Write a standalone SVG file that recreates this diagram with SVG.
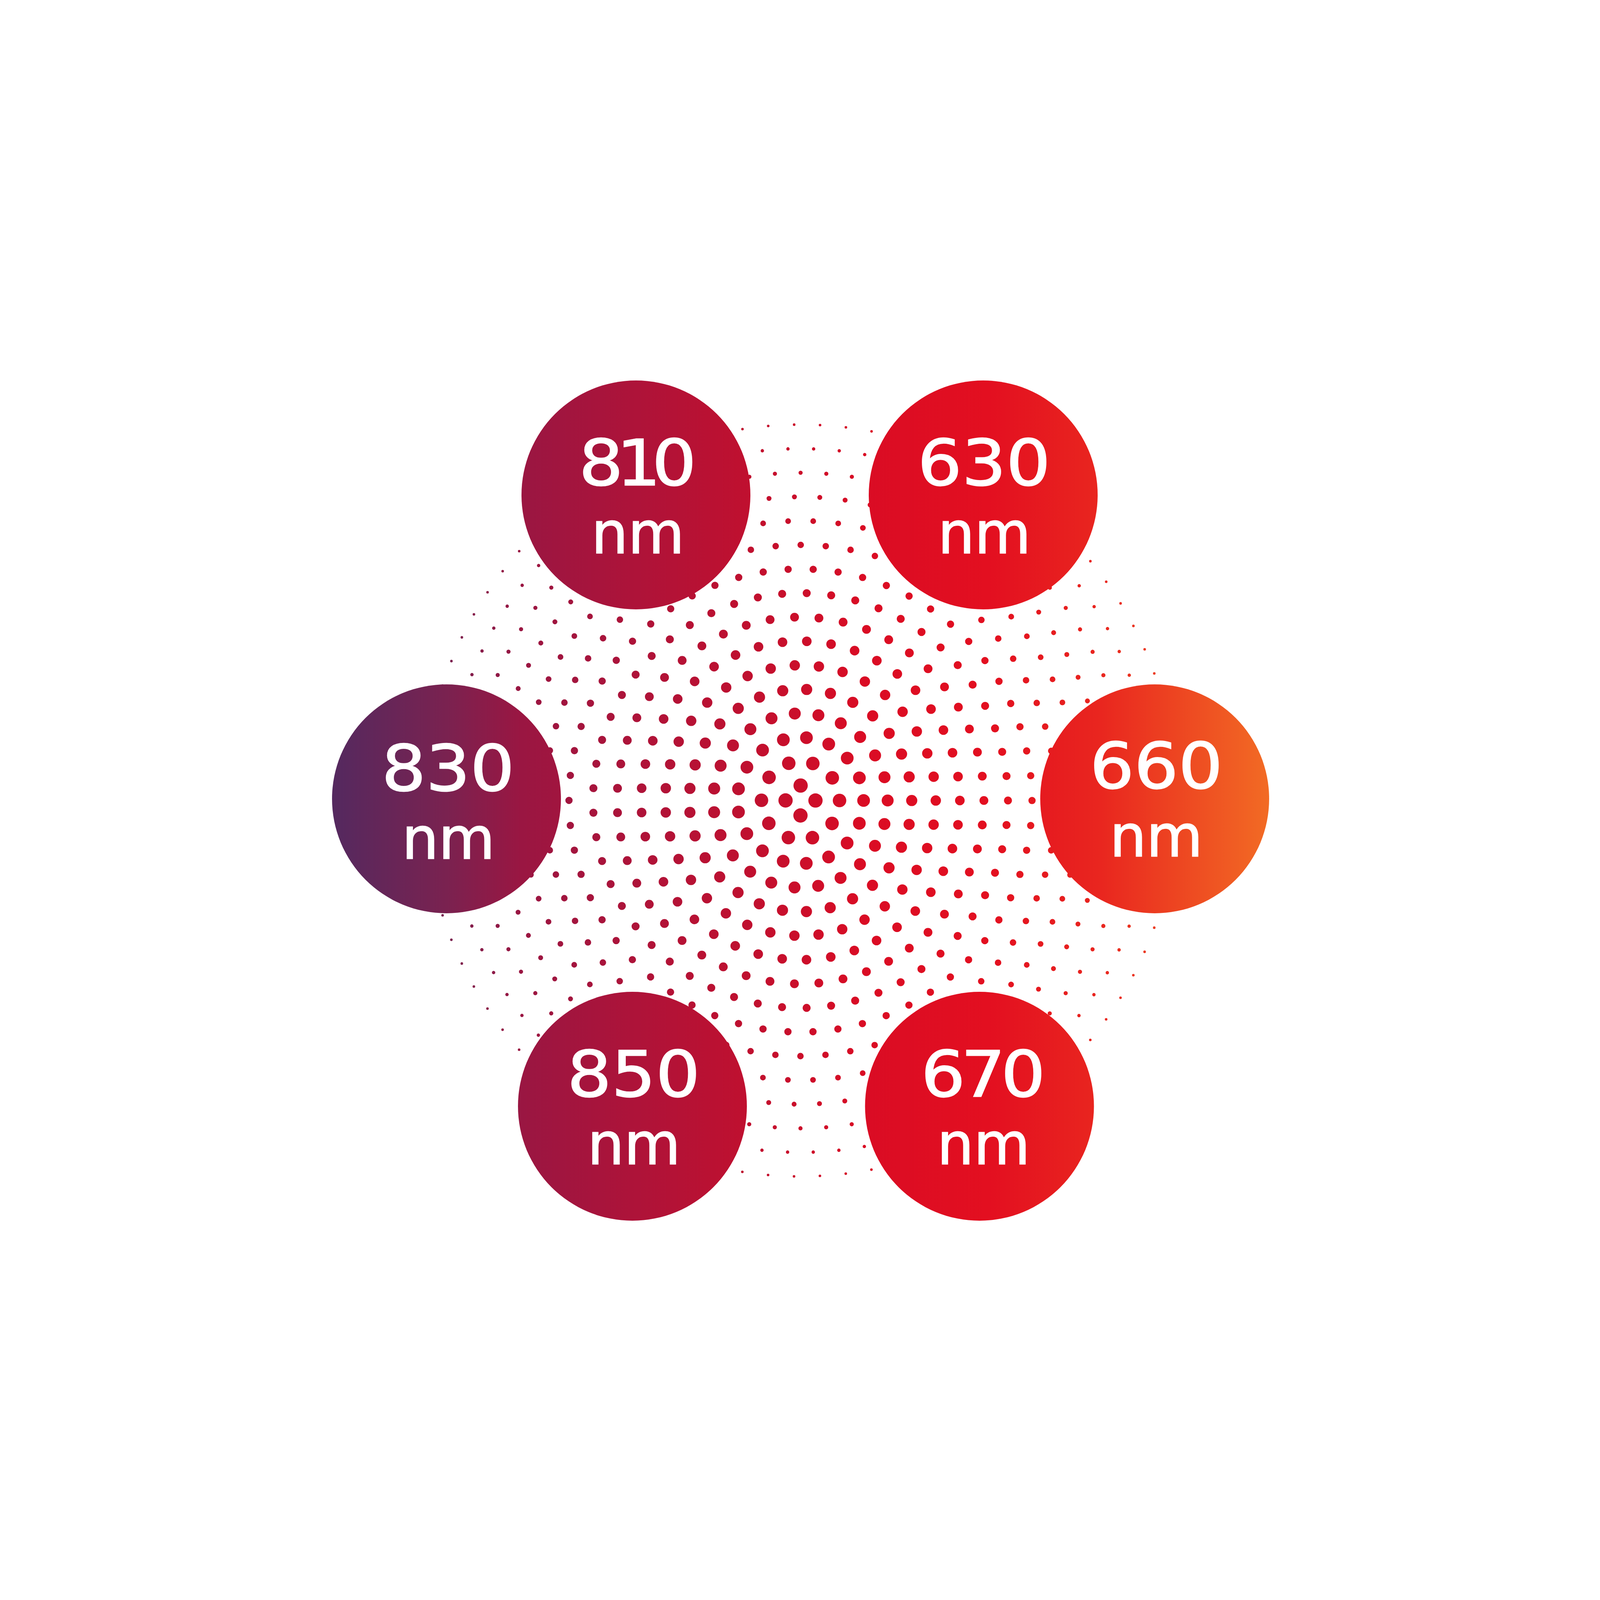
<svg xmlns="http://www.w3.org/2000/svg" width="4100" height="4100" viewBox="0 0 4100 4100">
<defs>
<linearGradient id="g" gradientUnits="userSpaceOnUse" x1="850" y1="0" x2="3250" y2="0">
<stop offset="0" stop-color="#54295f"/>
<stop offset="0.122" stop-color="#7a2250"/>
<stop offset="0.202" stop-color="#9a1642"/>
<stop offset="0.325" stop-color="#ae1339"/>
<stop offset="0.447" stop-color="#c0102f"/>
<stop offset="0.57" stop-color="#da0c24"/>
<stop offset="0.70" stop-color="#e30f20"/>
<stop offset="0.82" stop-color="#e9261f"/>
<stop offset="1" stop-color="#f26b24"/>
</linearGradient>
<style>
.node{fill:url(#g)}
.num{font-family:"DejaVu Sans","Liberation Sans",sans-serif;font-size:162px;fill:#fff;stroke:#fff;stroke-width:2.5;text-anchor:middle}
.unit{font-family:"DejaVu Sans","Liberation Sans",sans-serif;font-size:148px;fill:#fff;stroke:#fff;stroke-width:2.5;text-anchor:middle}
</style>
</defs>
<rect width="4100" height="4100" fill="#fff"/>
<g id="dots" fill="none" stroke="url(#g)" stroke-linecap="round">
<circle cx="2049.3" cy="2049.3" r="38.3" stroke-width="36.6" stroke-dasharray="0 60.16"/>
<circle cx="2049.3" cy="2049.3" r="99.9" stroke-width="34.6" stroke-dasharray="0 62.77"/>
<circle cx="2049.3" cy="2049.3" r="161.5" stroke-width="32.6" stroke-dasharray="0 59.69"/>
<circle cx="2049.3" cy="2049.3" r="223.1" stroke-width="30.6" stroke-dasharray="0 60.95"/>
<circle cx="2049.3" cy="2049.3" r="284.7" stroke-width="28.6" stroke-dasharray="0 61.68"/>
<circle cx="2049.3" cy="2049.3" r="346.3" stroke-width="26.6" stroke-dasharray="0 62.17"/>
<circle cx="2049.3" cy="2049.3" r="407.9" stroke-width="24.6" stroke-dasharray="0 62.51"/>
<circle cx="2049.3" cy="2049.3" r="469.5" stroke-width="22.6" stroke-dasharray="0 62.76"/>
<circle cx="2049.3" cy="2049.3" r="531.1" stroke-width="20.6" stroke-dasharray="0 62.96"/>
<circle cx="2049.3" cy="2049.3" r="592.7" stroke-width="18.6" stroke-dasharray="0 64.21"/>
<circle cx="2049.3" cy="2049.3" r="654.3" stroke-width="16.6" stroke-dasharray="0 64.24"/>
<circle cx="2049.3" cy="2049.3" r="715.9" stroke-width="14.6" stroke-dasharray="0 64.26"/>
<circle cx="2049.3" cy="2049.3" r="777.5" stroke-width="12.6" stroke-dasharray="0 65.14"/>
<circle cx="2049.3" cy="2049.3" r="839.1" stroke-width="10.6" stroke-dasharray="0 65.90"/>
<circle cx="2049.3" cy="2049.3" r="900.7" stroke-width="8.6" stroke-dasharray="0 65.81"/>
<circle cx="2049.3" cy="2049.3" r="962.3" stroke-width="6.6" stroke-dasharray="0 66.44"/>
</g>
<g id="node-810">
<circle class="node" cx="1628" cy="1267" r="293"/>
<text class="num" transform="translate(1634.9 1242) scale(1.1 1)" x="-87.5 0 82.8" y="0">810</text>
<text class="unit" x="1633" y="1416">nm</text>
</g>
<g id="node-630">
<circle class="node" cx="2517" cy="1267" r="293"/>
<text class="num" transform="translate(2519 1242) scale(1.1 1)" x="0" y="0">630</text>
<text class="unit" x="2520" y="1416">nm</text>
</g>
<g id="node-830">
<circle class="node" cx="1143" cy="2045" r="293"/>
<text class="num" transform="translate(1147 2024) scale(1.1 1)" x="0" y="0">830</text>
<text class="unit" x="1148" y="2198">nm</text>
</g>
<g id="node-660">
<circle class="node" cx="2956" cy="2045" r="293"/>
<text class="num" transform="translate(2960 2018) scale(1.1 1)" x="0" y="0">660</text>
<text class="unit" x="2960" y="2192">nm</text>
</g>
<g id="node-850">
<circle class="node" cx="1619" cy="2832" r="293"/>
<text class="num" transform="translate(1622 2807) scale(1.1 1)" x="0" y="0">850</text>
<text class="unit" x="1623" y="2980">nm</text>
</g>
<g id="node-670">
<circle class="node" cx="2507.5" cy="2832" r="293"/>
<text class="num" transform="translate(2517 2807) scale(1.1 1)" x="-93.2 0 93.1" y="0">670</text>
<text class="unit" x="2518" y="2980">nm</text>
</g>
</svg>
